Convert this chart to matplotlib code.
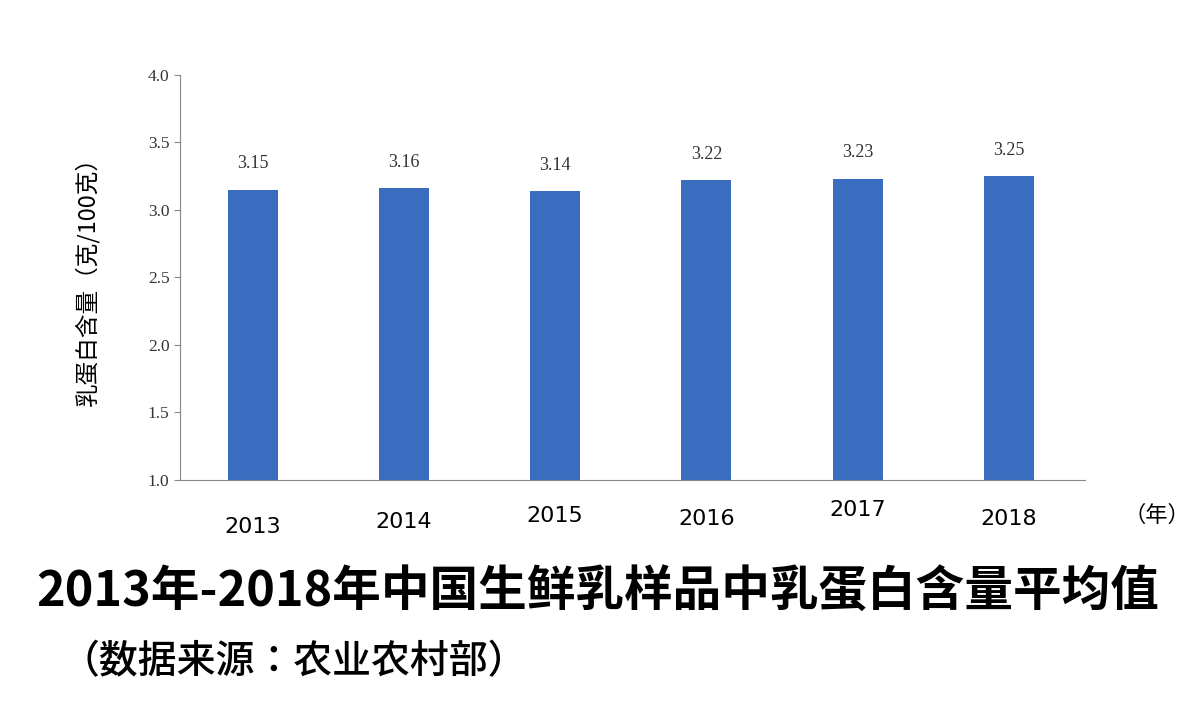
import matplotlib
matplotlib.use("Agg")
import matplotlib.pyplot as plt

plt.rcParams["font.family"] = ["Noto Sans CJK SC", "DejaVu Sans"]

YEARS = ["2013", "2014", "2015", "2016", "2017", "2018"]
VALUES = [3.15, 3.16, 3.14, 3.22, 3.23, 3.25]
YTICKS = [1.0, 1.5, 2.0, 2.5, 3.0, 3.5, 4.0]
LABEL_OFFSETS = [-4, 0, 4, 2, 8, 2]  # 年份标签的上下错位(像素)


def main():
    fig = plt.figure(figsize=(12.03, 7.26), dpi=100)
    ax = fig.add_axes([0.1496, 0.339, 0.752, 0.5577])
    x = range(len(YEARS))
    ax.bar(x, [v - 1.0 for v in VALUES], bottom=1.0, width=0.33, color="#3a6cc0")
    for i, v in enumerate(VALUES):
        ax.text(i, v + 0.13, f"{v:.2f}", ha="center", va="bottom",
                fontsize=13, family="Liberation Serif", color="#333333")
    ax.set_xlim(-0.48, 5.5)
    ax.set_ylim(1.0, 4.0)
    ax.set_yticks(YTICKS)
    ax.set_yticklabels([f"{t:.1f}" for t in YTICKS], family="Liberation Serif",
                       fontsize=12.5, color="#333333")
    ax.set_xticks([])
    for s in ("top", "right"):
        ax.spines[s].set_visible(False)
    for s in ("left", "bottom"):
        ax.spines[s].set_color("#888888")
    ax.tick_params(axis="y", length=4, color="#888888")
    for i, (yr, off) in enumerate(zip(YEARS, LABEL_OFFSETS)):
        ax.annotate(yr, (i, 1.0), xytext=(0, -30 + off), textcoords="offset points",
                    ha="center", va="center", fontsize=16, family="DejaVu Sans")
    fig.text(0.962, 0.29, "（年）", ha="center", va="center", fontsize=16)
    fig.text(0.072, 0.62, "乳蛋白含量（克/100克）", rotation=90, ha="center",
             va="center", fontsize=17, fontweight="medium")
    fig.text(0.497, 0.185, "2013年-2018年中国生鲜乳样品中乳蛋白含量平均值",
             ha="center", va="center", fontsize=35, fontweight="heavy")
    fig.text(0.05, 0.088, "（数据来源：农业农村部）", ha="left", va="center",
             fontsize=28, family="Noto Sans CJK JP", fontweight="medium")
    fig.savefig("out.png", dpi=100)
    plt.close(fig)


if __name__ == "__main__":
    main()
